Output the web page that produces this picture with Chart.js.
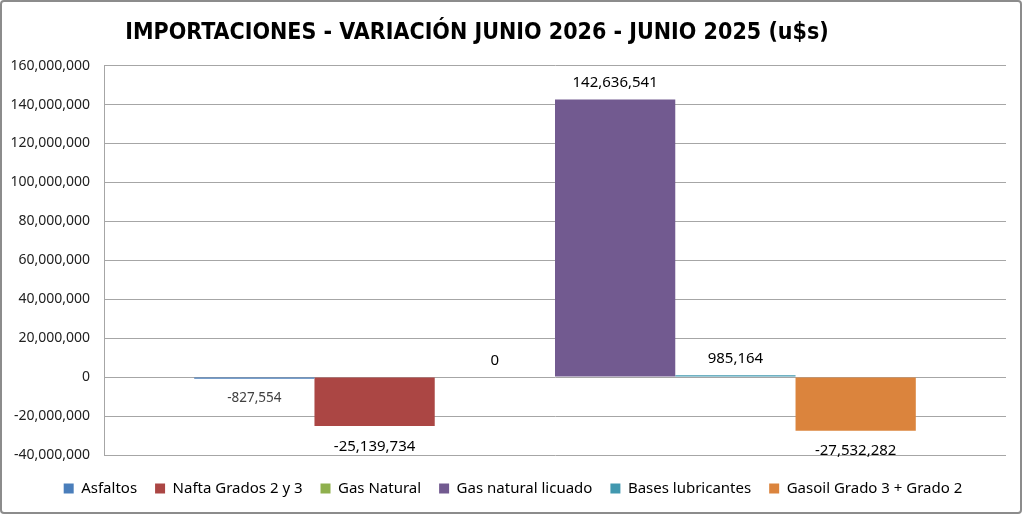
<!DOCTYPE html>
<html>
<head>
<meta charset="utf-8">
<script src="https://cdn.jsdelivr.net/npm/chart.js@4/dist/chart.umd.min.js"></script>
<style>
html,body{margin:0;padding:0;background:#fff;}
#wrap{position:relative;width:1022px;height:514px;box-sizing:border-box;border:2px solid #8c8c8c;border-radius:4px;background:#fff;}
#c{display:block;}
</style>
</head>
<body>
<div id="wrap"><canvas id="c" width="1018" height="510"></canvas></div>
<script>
const categories = ["Variación"];
const seriesNames = ["Asfaltos","Nafta Grados 2 y 3","Gas Natural","Gas natural licuado","Bases lubricantes","Gasoil Grado 3 + Grado 2"];
const seriesValues = [-827554, -25139734, 0, 142636541, 985164, -27532282];
const seriesColors = ["#4A7EBB","#AB4644","#8FB04E","#725A90","#4198AF","#DB843D"];
const yTicks = [-40000000,-20000000,0,20000000,40000000,60000000,80000000,100000000,120000000,140000000,160000000];
const titleText = "IMPORTACIONES - VARIACIÓN JUNIO 2026 - JUNIO 2025 (u$s)";

const fmt = v => Math.round(v).toLocaleString('en-US');
const FONT = '"Liberation Sans Narrow","DejaVu Sans Condensed","Liberation Sans",sans-serif';
const FONT2 = '"Noto Sans","Liberation Sans",sans-serif';

const labelPlugin = {
  id:'valueLabels',
  afterLayout(chart){
    if (chart.titleBlock) chart.titleBlock.right -= 54;
    if (chart.legend){ chart.legend.left += 9; chart.legend.right += 9; }
  },
  afterDatasetsDraw(chart){
    const ctx = chart.ctx;
    ctx.save();
    chart.data.datasets.forEach((ds,i)=>{
      const meta = chart.getDatasetMeta(i);
      const bar = meta.data[0];
      const v = ds.data[0];
      const small = Math.abs(v) < 900000 && v !== 0;
      ctx.font = (small ? '13.5px ' : '15px ') + FONT2;
      ctx.fillStyle = small ? '#404040' : '#000';
      ctx.textAlign = 'center';
      if (v >= 0){ ctx.textBaseline='bottom'; ctx.fillText(fmt(v), bar.x, bar.y - 9); }
      else { ctx.textBaseline='top'; ctx.fillText(fmt(v), bar.x, bar.y + 13); }
    });
    ctx.restore();
  }
};

new Chart(document.getElementById('c'), {
  type:'bar',
  data:{
    labels: categories,
    datasets: seriesNames.map((n,i)=>({
      label:n, data:[seriesValues[i]], backgroundColor:seriesColors[i],
      borderWidth:0, barPercentage:1.0, categoryPercentage:0.8
    }))
  },
  options:{
    responsive:false, animation:false,
    layout:{padding:{left:0,right:14,top:0,bottom:6}},
    plugins:{
      title:{display:true,text:titleText,color:'#000',font:{family:FONT,size:23,weight:'bold'},padding:{top:17,bottom:19}},
      legend:{position:'bottom',labels:{boxWidth:10,boxHeight:10,color:'#000',font:{family:FONT2,size:15},padding:18}},
      tooltip:{enabled:false}
    },
    scales:{
      x:{display:true,ticks:{display:false},grid:{display:false,drawTicks:false},border:{display:false},
         afterFit(s){ s.height = 8; }},
      y:{
        min:-40000000,max:160000000,
        afterBuildTicks(s){ s.ticks = yTicks.map(v=>({value:v})); },
        afterFit(s){ s.width = 102; },
        ticks:{color:'#222',font:{family:FONT2,size:14},callback:v=>fmt(v),padding:14},
        grid:{color:'#a6a6a6',lineWidth:1,drawTicks:false},
        border:{color:'#a6a6a6'}
      }
    }
  },
  plugins:[labelPlugin]
});
</script>
</body>
</html>
